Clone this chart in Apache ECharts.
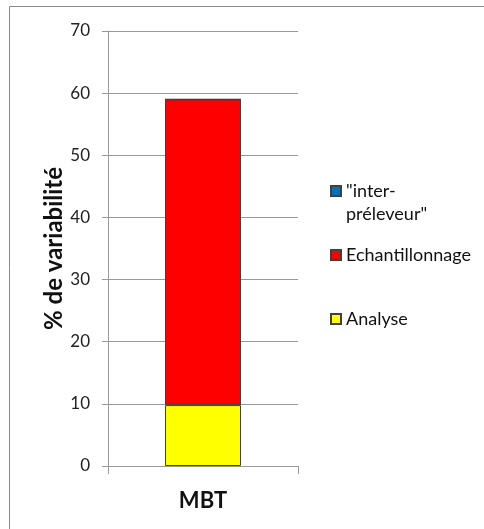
<!DOCTYPE html>
<html><head><meta charset="utf-8">
<script src="https://cdn.jsdelivr.net/npm/echarts@6/dist/echarts.min.js"></script>
<style>html,body{margin:0;padding:0;background:#fff}#c{width:484px;height:529px}</style>
</head><body><div id="c"></div>
<script>
const categories = ['MBT'];
const analyse = [9.8];
const echantillonnage = [49.2];
const interPreleveur = [0];
const yTicks = {min: 0, max: 70, interval: 10};
const seriesNames = ['Analyse', 'Echantillonnage', '"inter-préleveur"'];

const FONT = 'Lato, "Open Sans", sans-serif';
const chart = echarts.init(document.getElementById('c'));
const legendBase = {orient: 'vertical', left: 330, padding: 0, itemWidth: 10, itemHeight: 10, itemGap: 4,
  textStyle: {fontFamily: FONT, fontSize: 18, color: '#111'}, selectedMode: false,
  icon: 'rect'};
chart.setOption({
  animation: false,
  graphic: [
    {type: 'rect', shape: {x: 9.5, y: 6.5, width: 490, height: 540}, style: {fill: 'none', stroke: '#888', lineWidth: 1}},
    {type: 'text', left: 346, top: 205, style: {text: 'préleveur"', font: '18px ' + FONT, fill: '#111'}}
  ],
  legend: [
    Object.assign({}, legendBase, {data: [seriesNames[2]], top: 182, formatter: () => '"inter-'}),
    Object.assign({}, legendBase, {data: [seriesNames[1]], top: 246}),
    Object.assign({}, legendBase, {data: [seriesNames[0]], top: 310})
  ],
  grid: {left: 108, right: 186, top: 31, bottom: 63},
  xAxis: {
    type: 'category', data: categories,
    axisLine: {show: true, lineStyle: {color: '#999'}},
    axisTick: {show: true, length: 8, lineStyle: {color: '#999'}},
    axisLabel: {fontFamily: FONT, fontSize: 22, fontWeight: 'bold', color: '#111', margin: 24}
  },
  yAxis: {
    type: 'value', min: yTicks.min, max: yTicks.max, interval: yTicks.interval,
    name: '% de variabilité', nameLocation: 'middle', nameGap: 41, nameRotate: 90,
    nameTextStyle: {fontFamily: FONT, fontSize: 24, fontWeight: 'bold', color: '#111'},
    axisLine: {show: true, lineStyle: {color: '#999'}},
    axisTick: {show: true, length: 6, lineStyle: {color: '#999'}},
    axisLabel: {fontFamily: FONT, fontSize: 17, color: '#222', margin: 18},
    splitLine: {show: true, lineStyle: {color: '#999'}}
  },
  series: [
    {name: seriesNames[0], type: 'bar', stack: 's', data: analyse, barWidth: '40%',
     itemStyle: {color: '#ffff00', borderColor: '#404040', borderWidth: 1}},
    {name: seriesNames[1], type: 'bar', stack: 's', data: echantillonnage,
     itemStyle: {color: '#ff0000', borderColor: '#404040', borderWidth: 1}},
    {name: seriesNames[2], type: 'bar', stack: 's', data: interPreleveur,
     itemStyle: {color: '#0070c0', borderColor: '#404040', borderWidth: 1}}
  ]
});
</script></body></html>
